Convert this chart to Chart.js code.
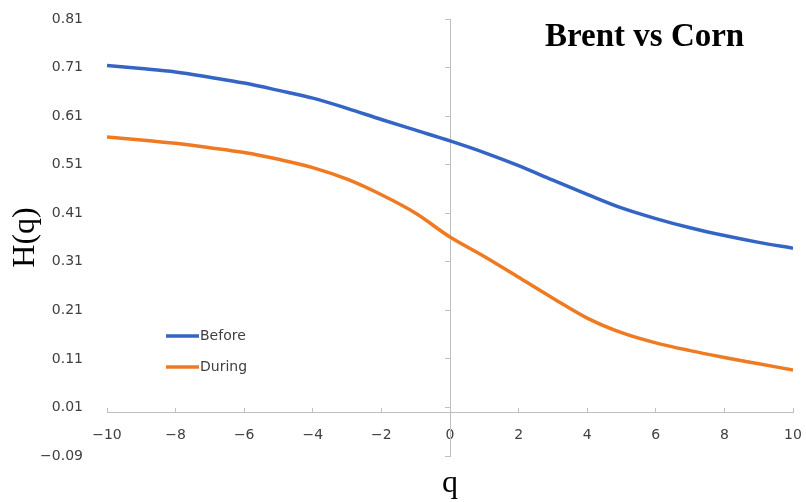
<!DOCTYPE html>
<html>
<head>
<meta charset="utf-8">
<script src="https://cdn.jsdelivr.net/npm/chart.js@4/dist/chart.umd.min.js"></script>
<style>
  body { margin: 0; background: #fff; }
  #wrap { width: 806px; height: 502px; }
</style>
</head>
<body>
<div id="wrap"><canvas id="lineChart" width="806" height="502"></canvas></div>
<script>
// valores
const qValues = [-10, -9, -8, -7, -6, -5, -4, -3, -2, -1, 0, 1, 2, 3, 4, 5, 6, 7, 8, 9, 10];
const before = [0.714, 0.708, 0.701, 0.690, 0.678, 0.663, 0.647, 0.626, 0.603, 0.581, 0.559,
                0.535, 0.508, 0.478, 0.449, 0.421, 0.399, 0.380, 0.364, 0.350, 0.338];
const during = [0.567, 0.561, 0.554, 0.545, 0.535, 0.521, 0.504, 0.480, 0.448, 0.410, 0.361,
                0.321, 0.278, 0.235, 0.194, 0.164, 0.143, 0.127, 0.113, 0.100, 0.087];
const yTicks = [-0.09, 0.01, 0.11, 0.21, 0.31, 0.41, 0.51, 0.61, 0.71, 0.81];
const xTicks = [-10, -8, -6, -4, -2, 0, 2, 4, 6, 8, 10];

const axisColor = "#bfbfbf";
const labelColor = "#404040";
const minus = (s) => s.replace("-", "\u2212");

const pontos = (ys) => qValues.map((q, i) => ({ x: q, y: ys[i] }));

// título, legenda e rótulo do eixo x
const extras = {
  id: "extras",
  afterDraw(chart) {
    const ctx = chart.ctx;
    ctx.save();
    ctx.fillStyle = "#000";
    ctx.font = "bold 33px 'Liberation Serif'";
    ctx.textAlign = "left";
    ctx.textBaseline = "alphabetic";
    ctx.fillText("Brent vs Corn", 545, 46);

    ctx.font = "32px 'Liberation Serif'";
    ctx.textAlign = "center";
    ctx.fillText("q", 450, 492);

    ctx.font = "14px 'DejaVu Sans'";
    ctx.textAlign = "left";
    ctx.textBaseline = "middle";
    chart.data.datasets.forEach((ds, i) => {
      const y = 336 + i * 31;
      ctx.strokeStyle = ds.borderColor;
      ctx.lineWidth = 3.5;
      ctx.beginPath();
      ctx.moveTo(166, y);
      ctx.lineTo(199, y);
      ctx.stroke();
      ctx.fillStyle = labelColor;
      ctx.fillText(ds.label, 200, y);
    });
    ctx.restore();
  },
};

const semPadding = (s) => {
  s.paddingLeft = 0;
  s.paddingRight = 0;
  s.paddingTop = 0;
  s.paddingBottom = 0;
};

const ctx = document.getElementById("lineChart").getContext("2d");
const myChart = new Chart(ctx, {
  type: "line",
  data: {
    datasets: [
      { label: "Before", data: pontos(before), borderColor: "#3465c5" },
      { label: "During", data: pontos(during), borderColor: "#ef7a22" },
    ],
  },
  options: {
    responsive: false,
    animation: false,
    layout: { padding: { top: 19, right: 13, bottom: 46, left: 0 } },
    elements: {
      point: { radius: 0 },
      line: { borderWidth: 3.5, cubicInterpolationMode: "monotone", fill: false },
    },
    plugins: { legend: { display: false }, tooltip: { enabled: false } },
    scales: {
      x: {
        type: "linear",
        min: -10,
        max: 10,
        position: { y: 0 },
        afterBuildTicks: (s) => { s.ticks = xTicks.map((v) => ({ value: v })); },
        afterFit: semPadding,
        grid: { drawOnChartArea: false, tickLength: -5, color: axisColor },
        border: { color: axisColor },
        ticks: {
          padding: 20,
          color: labelColor,
          font: { family: "DejaVu Sans", size: 14 },
          callback: (v) => minus(String(v)),
        },
      },
      y: {
        type: "linear",
        position: "left",
        min: -0.09,
        max: 0.81,
        afterBuildTicks: (s) => { s.ticks = yTicks.map((v) => ({ value: v })); },
        afterFit: (s) => { s.width = 107; semPadding(s); },
        grid: { display: false },
        border: { display: false },
        ticks: {
          padding: 16,
          color: labelColor,
          font: { family: "DejaVu Sans", size: 14 },
          callback: (v) => minus(v.toFixed(2)),
        },
        title: {
          display: true,
          text: "H(q)",
          color: "#000",
          font: { family: "Liberation Serif", size: 32 },
          padding: { top: 6, bottom: 0 },
        },
      },
      y2: {
        type: "linear",
        position: { x: 0 },
        min: -0.09,
        max: 0.81,
        afterBuildTicks: (s) => { s.ticks = yTicks.map((v) => ({ value: v })); },
        afterFit: (s) => { s.width = 0; semPadding(s); },
        grid: { drawOnChartArea: false, tickLength: 5, color: axisColor },
        border: { color: axisColor },
        ticks: { callback: () => "" },
      },
    },
  },
  plugins: [extras],
});
</script>
</body>
</html>
